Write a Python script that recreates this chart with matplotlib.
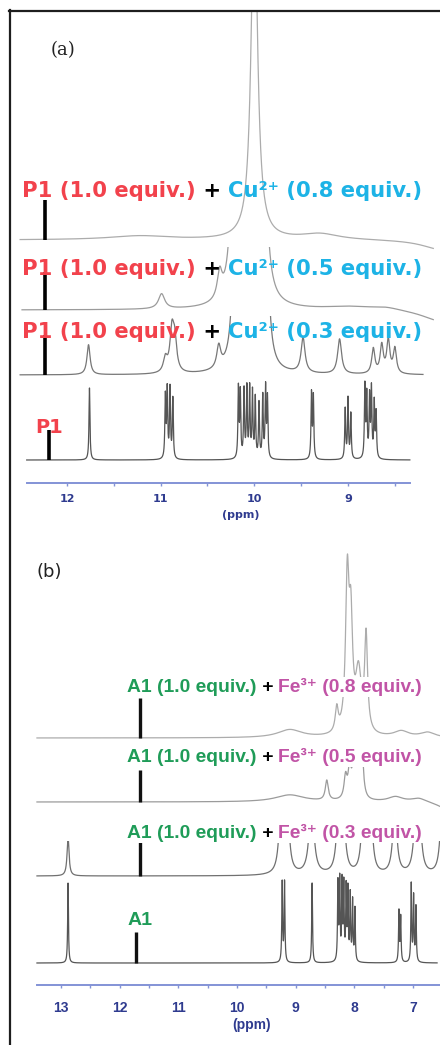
import numpy as np
import matplotlib
matplotlib.use("Agg")
import matplotlib.pyplot as plt
from matplotlib import transforms
from matplotlib.lines import Line2D
from matplotlib.patches import Rectangle

W, H, DPI = 440, 1045, 100

# ---------------- panel (a): P1 + Cu2+ ----------------
a_ticks = [12, 11, 10, 9]
a_minor = [11.5, 10.5, 9.5, 8.5]
a_equiv = ["0.8", "0.5", "0.3"]

# peak tables: centre (ppm), intensity, half width (ppm)
a08_c = [10.00, 11.22, 9.30, 8.00]
a08_h = [350, 4, 6, -10]
a08_w = [0.040, 0.40, 0.25, 0.25]

a05_c = [10.99, 10.37, 10.22, 10.10, 10.00, 9.90, 9.00, 8.60, 8.00]
a05_h = [15, 26, 150, 200, 200, 150, 3, 3, -12]
a05_w = [0.040, 0.030, 0.040, 0.040, 0.040, 0.040, 0.30, 0.20, 0.25]

a03_c = [11.77, 10.95, 10.88, 10.85, 10.38, 10.20, 10.10, 10.00, 9.88,
         9.48, 9.09, 8.73, 8.64, 8.57, 8.50]
a03_h = [30, 14, 40, 30, 22, 200, 200, 200, 200, 35, 35, 25, 28, 33, 25]
a03_w = [0.020, 0.025, 0.025, 0.025, 0.025, 0.030, 0.030, 0.030, 0.030,
         0.025, 0.025, 0.020, 0.020, 0.020, 0.020]

aP1_c = [11.76, 10.95, 10.93, 10.90, 10.87,
         10.17, 10.15, 10.11, 10.08, 10.05, 10.02, 9.99, 9.95, 9.91, 9.88, 9.86,
         9.39, 9.37, 9.03, 9.00, 8.97,
         8.82, 8.80, 8.77, 8.75, 8.72, 8.70]
aP1_h = [72, 62, 68, 70, 60,
         70, 65, 68, 70, 70, 66, 60, 55, 62, 70, 60,
         65, 62, 50, 60, 45,
         72, 62, 60, 68, 55, 45]
aP1_w = [0.006] * len(aP1_c)

# ---------------- panel (b): A1 + Fe3+ ----------------
b_ticks = [13, 12, 11, 10, 9, 8, 7]
b_minor = [12.5, 11.5, 10.5, 9.5, 8.5, 7.5]
b_equiv = ["0.8", "0.5", "0.3"]

b08_c = [9.10, 8.30, 8.12, 8.06, 7.93, 7.80, 7.20, 6.75]
b08_h = [8, 24, 150, 100, 60, 95, 6, 5]
b08_w = [0.25, 0.030, 0.035, 0.035, 0.060, 0.030, 0.15, 0.15]

b05_c = [9.10, 8.47, 8.15, 8.08, 8.01, 7.94, 7.87, 7.30, 6.90, 6.40]
b05_h = [7, 20, 22, 30, 35, 40, 45, 5, 4, -8]
b05_w = [0.30, 0.030, 0.030, 0.030, 0.030, 0.030, 0.030, 0.15, 0.15, 0.20]

b03_c = [12.88, 9.25, 9.14, 8.73, 8.27, 8.19, 7.85, 7.72, 7.31, 6.95, 6.89, 6.50]
b03_h = [39, 70, 60, 80, 60, 60, 60, 60, 70, 60, 50, 80]
b03_w = [0.020, 0.040, 0.040, 0.045, 0.040, 0.040, 0.040, 0.040, 0.040,
         0.040, 0.040, 0.040]

bA1_c = [12.88, 9.23, 9.19, 8.72,
         8.28, 8.25, 8.21, 8.18, 8.14, 8.11, 8.07, 8.03, 7.99,
         7.24, 7.21, 7.03, 6.99, 6.95]
bA1_h = [80, 80, 80, 80,
         78, 80, 78, 75, 72, 70, 66, 60, 53,
         51, 45, 78, 65, 55]
bA1_w = [0.008] * len(bA1_c)

marker_a_ppm = [12.23, 12.23, 12.23, 12.19]
marker_a_len = [40, 38, 40, 30]
marker_b_ppm = [11.65, 11.65, 11.65, 11.72]
marker_b_len = [40, 32, 34, 31]

RED, CYAN = "#f2424c", "#1db3e6"
GREEN, MAGENTA = "#1f9c58", "#c154a6"
NAVY, AXIS_BLUE = "#2f3b8f", "#8393d6"


def lineshape(x, centres, heights, widths):
    c = np.asarray(centres)[None, :]
    h = np.asarray(heights)[None, :]
    w = np.asarray(widths)[None, :]
    d = x[:, None] - c
    return (h * w ** 2 / (d ** 2 + w ** 2)).sum(axis=1)


def trace(ax, ppm_range, peaks, base, color, clip_top=None, lw=0.9):
    x = np.linspace(ppm_range[0], ppm_range[1], 9000)
    y = base - lineshape(x, *peaks)
    line, = ax.plot(x, y, color=color, lw=lw, solid_joinstyle="round", zorder=2)
    if clip_top is not None:
        rect = Rectangle((min(ppm_range) - 1, clip_top), abs(ppm_range[1] - ppm_range[0]) + 2,
                         2000, transform=ax.transData)
        line.set_clip_path(rect)
    return line


def multicolour(ax, x, y, parts, **kw):
    renderer = ax.figure.canvas.get_renderer()
    tr = ax.transData
    for s, c in parts:
        t = ax.text(x, y, s, color=c, transform=tr, ha="left", va="baseline",
                    zorder=5, **kw)
        t.draw(renderer)
        ex = t.get_window_extent(renderer)
        tr = transforms.offset_copy(t.get_transform(), x=ex.width, units="dots")


def style_axis(ax, ytop, ybot, spine_y, bounds, ticks, minor, tick_font, tick_size, pad):
    ax.set_ylim(ybot, ytop)
    for s in ("top", "left", "right"):
        ax.spines[s].set_visible(False)
    ax.yaxis.set_visible(False)
    ax.patch.set_alpha(0)
    sp = ax.spines["bottom"]
    sp.set_position(("data", spine_y))
    sp.set_bounds(*bounds)
    sp.set_color(AXIS_BLUE)
    sp.set_linewidth(1.4)
    ax.set_xticks(ticks)
    ax.set_xticklabels([str(t) for t in ticks])
    ax.set_xticks(minor, minor=True)
    ax.tick_params(axis="x", which="both", direction="out", length=2.2, width=1.0,
                   color=AXIS_BLUE, labelcolor=NAVY, pad=pad)
    for lab in ax.get_xticklabels():
        lab.set_fontfamily(tick_font)
        lab.set_fontweight("bold")
        lab.set_fontsize(tick_size)


SANS_A = ["DejaVu Sans"]
SANS_B = ["Liberation Sans", "DejaVu Sans"]

fig = plt.figure(figsize=(W / DPI, H / DPI), dpi=DPI)
fig.patch.set_facecolor("white")

# ---------- panel (a) ----------
ax_a = fig.add_axes([0, 1 - 530 / H, 1, 520 / H])
ax_a.set_xlim(12.715, 8.018)
style_axis(ax_a, 10, 530, 483, (12.427, 8.338), a_ticks, a_minor, SANS_A, 8, 5.5)

a_bases = [240, 310, 375, 460]
a_clip = [10, 247, 316, None]
a_cols = ["#acacac", "#9b9b9b", "#777777", "#555555"]
a_ranges = [(12.50, 8.09), (12.48, 8.09), (12.50, 8.20), (12.43, 8.34)]
a_peaks = [(a08_c, a08_h, a08_w), (a05_c, a05_h, a05_w),
           (a03_c, a03_h, a03_w), (aP1_c, aP1_h, aP1_w)]
for rng, pk, b, col, cl in zip(a_ranges, a_peaks, a_bases, a_cols, a_clip):
    trace(ax_a, rng, pk, b, col, cl)
for p, ln, b in zip(marker_a_ppm, marker_a_len, a_bases):
    ax_a.plot([p, p], [b, b - ln], color="black", lw=2.6, solid_capstyle="butt", zorder=3)

a_baselines = [197, 275, 338]
afont = dict(fontfamily=SANS_A, fontweight="bold", fontsize=15.2)
for eq, yb in zip(a_equiv, a_baselines):
    multicolour(ax_a, 12.48, yb, [("P1 (1.0 equiv.)", RED), (" + ", "black"),
                                  (f"Cu²⁺ ({eq} equiv.)", CYAN)], **afont)
ax_a.text(12.34, 433, "P1", color=RED, ha="left", va="baseline", zorder=5,
          fontfamily=SANS_A, fontweight="bold", fontsize=14)
ax_a.text(10.14, 515, "(ppm)", color=NAVY, ha="center", va="center",
          fontfamily=SANS_A, fontweight="bold", fontsize=8)
ax_a.text(12.17, 50, "(a)", color="#222222", ha="left", va="center",
          fontfamily="DejaVu Serif", fontsize=13)

# ---------- panel (b) ----------
ax_b = fig.add_axes([0, 0, 1, 515 / H])
ax_b.set_xlim(14.04, 6.54)
style_axis(ax_b, 530, 1045, 985, (13.41, 6.54), b_ticks, b_minor, SANS_B, 10, 9.5)

b_bases = [738, 802, 876, 963]
b_clip = [None, 767, 841, None]
b_cols = ["#acacac", "#9b9b9b", "#707070", "#555555"]
b_ranges = [(13.41, 6.54), (13.41, 6.54), (13.41, 6.54), (13.41, 6.59)]
b_peaks = [(b08_c, b08_h, b08_w), (b05_c, b05_h, b05_w),
           (b03_c, b03_h, b03_w), (bA1_c, bA1_h, bA1_w)]
for rng, pk, b, col, cl in zip(b_ranges, b_peaks, b_bases, b_cols, b_clip):
    trace(ax_b, rng, pk, b, col, cl)
for p, ln, b in zip(marker_b_ppm, marker_b_len, b_bases):
    ax_b.plot([p, p], [b, b - ln], color="#111111", lw=2.4, solid_capstyle="butt", zorder=3)

b_baselines = [692, 762, 838]
bfont = dict(fontfamily=SANS_B, fontweight="bold", fontsize=13.9,
             bbox=dict(facecolor="white", edgecolor="none", pad=0.5))
for eq, yb in zip(b_equiv, b_baselines):
    multicolour(ax_b, 11.875, yb, [("A1 (1.0 equiv.)", GREEN), (" + ", "black"),
                                   (f"Fe³⁺ ({eq} equiv.)", MAGENTA)], **bfont)
ax_b.text(11.86, 925, "A1", color=GREEN, ha="left", va="baseline", zorder=5,
          fontfamily=SANS_B, fontweight="bold", fontsize=14)
ax_b.text(9.76, 1025, "(ppm)", color=NAVY, ha="center", va="center",
          fontfamily=SANS_B, fontweight="bold", fontsize=10)
ax_b.text(13.41, 572, "(b)", color="#222222", ha="left", va="center",
          fontfamily="DejaVu Sans", fontsize=13)

# outer frame
def px(x, y):
    return x / W, 1 - y / H

for (x0, y0), (x1, y1) in [((9.5, 10), (9.5, H)), ((9, 10.5), (W, 10.5))]:
    fx0, fy0 = px(x0, y0)
    fx1, fy1 = px(x1, y1)
    fig.add_artist(Line2D([fx0, fx1], [fy0, fy1], transform=fig.transFigure,
                          color="#1e1e1e", lw=1.6))

fig.savefig("out.png", dpi=DPI, facecolor="white")
